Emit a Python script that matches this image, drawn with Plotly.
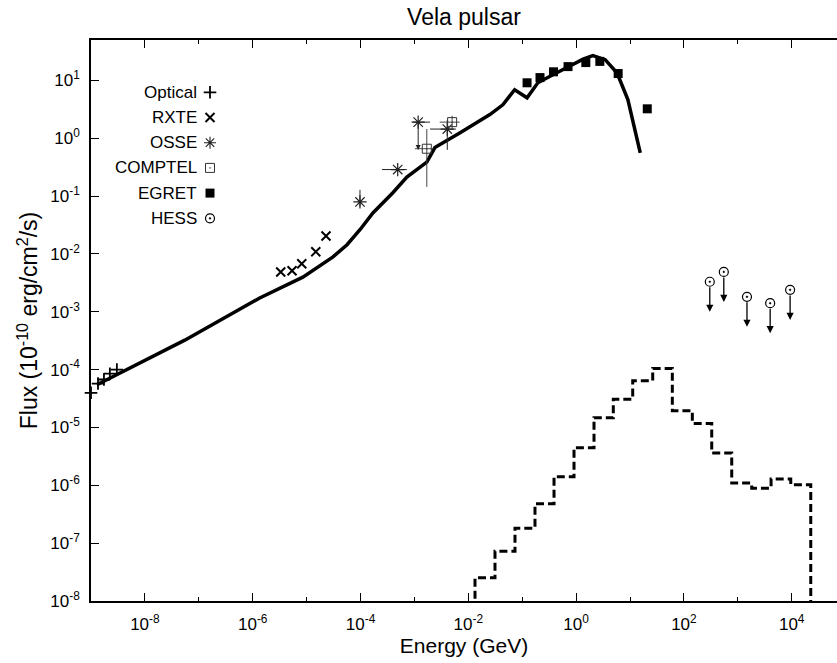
import numpy as np
import plotly.graph_objects as go

# ---------------- data (log10 E [GeV], log10 flux [1e-10 erg/cm2/s]) ----------------
model_logE = [-8.89, -7.26, -5.87, -5.07, -4.51, -4.25, -4.01, -3.77, -3.40, -3.14, -2.77, -2.62,
              -2.16, -1.60, -1.36, -1.14, -0.91, -0.71, -0.43, -0.17, 0.13, 0.31, 0.54, 0.76, 0.96, 1.19]
model_logF = [-4.26, -3.49, -2.76, -2.40, -2.05, -1.84, -1.58, -1.29, -0.94, -0.67, -0.41, -0.16,
              0.09, 0.41, 0.58, 0.84, 0.70, 0.96, 1.10, 1.22, 1.37, 1.43, 1.36, 1.13, 0.67, -0.25]

optical_logE = [-9.00, -8.87, -8.76, -8.65, -8.52]
optical_logF = [-4.40, -4.24, -4.17, -4.07, -4.00]

rxte_logE = [-5.48, -5.27, -5.09, -4.83, -4.64]
rxte_logF = [-2.31, -2.29, -2.17, -1.96, -1.69]

osse_logE = [-4.01, -3.31, -2.93, -2.39]
osse_logF = [-1.10, -0.54, 0.28, 0.16]
osse_logE_lo = [-4.01, -3.60, -3.03, -2.71]
osse_logE_hi = [-4.01, -3.14, -2.71, -2.23]
osse_logF_lo = [-1.18, -0.54, 0.28, -0.20]
osse_logF_hi = [-0.89, -0.54, 0.28, 0.32]
osse_ul_logE = [-2.93]
osse_ul_from = [0.28]
osse_ul_to = [-0.20]

comptel_logE = [-2.77, -2.30]
comptel_logF = [-0.18, 0.28]
comptel_logE_lo = [-2.99, -2.53]
comptel_logE_hi = [-2.65, -2.16]
comptel_logF_lo = [-0.84, 0.16]
comptel_logF_hi = [0.16, 0.39]

egret_logE = [-0.91, -0.67, -0.42, -0.15, 0.18, 0.44, 0.78, 1.32]
egret_logF = [0.96, 1.05, 1.15, 1.24, 1.31, 1.33, 1.12, 0.51]

hess_logE = [2.48, 2.74, 3.17, 3.60, 3.97]
hess_logF = [-2.48, -2.31, -2.74, -2.85, -2.62]
hess_ul_drop = 0.52  # length of the upper-limit arrows (decades)

hist_edges_logE = [-1.876, -1.505, -1.134, -0.763, -0.410, -0.039, 0.332, 0.690, 1.050, 1.421,
                   1.785, 2.156, 2.516, 2.887, 3.258, 3.617, 3.982, 4.353]
hist_levels_logF = [-7.60, -7.14, -6.74, -6.32, -5.85, -5.35, -4.83, -4.51, -4.19, -3.98,
                    -4.71, -4.93, -5.44, -5.96, -6.05, -5.89, -5.99]

legend_names = ["Optical", "RXTE", "OSSE", "COMPTEL", "EGRET", "HESS"]
x_tick_exp = [-8, -6, -4, -2, 0, 2, 4]
x_minor_exp = [-9, -7, -5, -3, -1, 1, 3]
y_tick_exp = [-8, -7, -6, -5, -4, -3, -2, -1, 0, 1]

# ---------------- figure ----------------
p = lambda a: np.power(10.0, np.asarray(a, dtype=float))
FONT = "Liberation Sans, Arial, Helvetica, sans-serif"
BLACK = "#000000"

fig = go.Figure()

# model curve
fig.add_trace(go.Scatter(x=p(model_logE), y=p(model_logF), mode="lines",
                         line=dict(color=BLACK, width=3.5), showlegend=False))

# histogram (dashed step)
hx = [hist_edges_logE[0]] + hist_edges_logE + [hist_edges_logE[-1]]
hy = [-9.0] + hist_levels_logF + [hist_levels_logF[-1], -9.0]
fig.add_trace(go.Scatter(x=p(hx), y=p(hy), mode="lines", line_shape="hv",
                         line=dict(color=BLACK, width=3, dash="8px,4px"), showlegend=False))

# optical
fig.add_trace(go.Scatter(x=p(optical_logE), y=p(optical_logF), mode="markers",
                         marker=dict(symbol="cross-thin", size=9, line=dict(color=BLACK, width=1.8)),
                         showlegend=False, cliponaxis=False))
# RXTE
fig.add_trace(go.Scatter(x=p(rxte_logE), y=p(rxte_logF), mode="markers",
                         marker=dict(symbol="x-thin", size=9, line=dict(color=BLACK, width=2)),
                         showlegend=False))

# OSSE
oE, oF = p(osse_logE), p(osse_logF)
fig.add_trace(go.Scatter(
    x=oE, y=oF, mode="markers",
    marker=dict(symbol="asterisk", size=11, color=BLACK, line=dict(color="#222", width=1.2)),
    error_x=dict(type="data", symmetric=False, array=p(osse_logE_hi) - oE,
                 arrayminus=oE - p(osse_logE_lo), color="#222", thickness=1, width=0),
    error_y=dict(type="data", symmetric=False, array=p(osse_logF_hi) - oF,
                 arrayminus=oF - p(osse_logF_lo), color="#222", thickness=1, width=0),
    showlegend=False))

# COMPTEL
cE, cF = p(comptel_logE), p(comptel_logF)
fig.add_trace(go.Scatter(
    x=cE, y=cF, mode="markers",
    marker=dict(symbol="square-open-dot", size=9, color="#333", line=dict(color="#333", width=1)),
    error_x=dict(type="data", symmetric=False, array=p(comptel_logE_hi) - cE,
                 arrayminus=cE - p(comptel_logE_lo), color="#444", thickness=1, width=0),
    error_y=dict(type="data", symmetric=False, array=p(comptel_logF_hi) - cF,
                 arrayminus=cF - p(comptel_logF_lo), color="#444", thickness=1, width=0),
    showlegend=False))

# EGRET
fig.add_trace(go.Scatter(x=p(egret_logE), y=p(egret_logF), mode="markers",
                         marker=dict(symbol="square", size=9, color=BLACK), showlegend=False))

# HESS
fig.add_trace(go.Scatter(x=p(hess_logE), y=p(hess_logF), mode="markers",
                         marker=dict(symbol="circle-open-dot", size=9, color=BLACK,
                                     line=dict(color=BLACK, width=1.2)),
                         showlegend=False))

annotations = []
for e, f in zip(hess_logE, hess_logF):
    annotations.append(dict(x=e, y=f - hess_ul_drop, ax=e, ay=f - 0.07, xref="x", yref="y",
                            axref="x", ayref="y", text="", showarrow=True, arrowhead=2,
                            arrowsize=1.1, arrowwidth=1.3, arrowcolor=BLACK))
for e, f0, f1 in zip(osse_ul_logE, osse_ul_from, osse_ul_to):
    annotations.append(dict(x=e, y=f1, ax=e, ay=f0, xref="x", yref="y",
                            axref="x", ayref="y", text="", showarrow=True, arrowhead=2,
                            arrowsize=1.0, arrowwidth=1.0, arrowcolor="#222"))

# manual key (text on the left, symbol on the right)
W, H = 837, 663
L, R, T, B = 91, 0, 40, 62
pw, ph = W - L - R, H - T - B
key_sym = [dict(symbol="cross-thin", size=9, line=dict(color=BLACK, width=1.8)),
           dict(symbol="x-thin", size=9, line=dict(color=BLACK, width=2)),
           dict(symbol="asterisk", size=10, line=dict(color="#222", width=1.1)),
           dict(symbol="square-open-dot", size=9, color="#333", line=dict(color="#333", width=1)),
           dict(symbol="square", size=9, color=BLACK),
           dict(symbol="circle-open-dot", size=9, color=BLACK, line=dict(color=BLACK, width=1.2))]
key_x_sym = (210 - L) / pw
key_x_txt = (199 - L) / pw
key_y0 = (H - B - 92.3) / ph
key_dy = 25.2 / ph
for i, (name, ms) in enumerate(zip(legend_names, key_sym)):
    yy = key_y0 - i * key_dy
    fig.add_trace(go.Scatter(x=[key_x_sym], y=[yy], mode="markers", marker=ms,
                             xaxis="x2", yaxis="y2", showlegend=False, hoverinfo="skip"))
    annotations.append(dict(x=key_x_txt, y=yy, xref="paper", yref="paper", text=name,
                            showarrow=False, xanchor="right", yanchor="middle",
                            font=dict(family=FONT, size=17, color=BLACK)))

fig.update_layout(
    width=W, height=H, margin=dict(l=L, r=R, t=T, b=B),
    paper_bgcolor="white", plot_bgcolor="white",
    font=dict(family=FONT, size=17, color=BLACK),
    title=dict(text="Vela pulsar", x=(L + pw / 2) / W, xanchor="center", y=1 - 17 / H,
               yanchor="middle", font=dict(family=FONT, size=23, color=BLACK)),
    xaxis=dict(type="log", range=[-9, 4.84], showgrid=False, zeroline=False,
               showline=True, linecolor=BLACK, linewidth=1.5, mirror="allticks",
               ticks="inside", ticklen=8, tickwidth=1, tickcolor=BLACK,
               tickvals=[10.0 ** k for k in x_tick_exp],
               ticktext=[f"10<sup>{k}</sup>" for k in x_tick_exp],
               minor=dict(tickvals=[10.0 ** k for k in x_minor_exp], ticks="inside",
                          ticklen=4, tickwidth=1, tickcolor=BLACK, showgrid=False),
               tickfont=dict(size=17), ticklabelstandoff=7,
               title=dict(text="Energy (GeV)", font=dict(size=21), standoff=3)),
    yaxis=dict(type="log", range=[-8, 1.7], showgrid=False, zeroline=False,
               showline=True, linecolor=BLACK, linewidth=1.5, mirror=False,
               ticks="inside", ticklen=8, tickwidth=1, tickcolor=BLACK,
               tickvals=[10.0 ** k for k in y_tick_exp],
               ticktext=[f"10<sup>{k}</sup>" for k in y_tick_exp],
               tickfont=dict(size=17), ticklabelstandoff=6,
               title=dict(text="Flux (10<sup>-10</sup> erg/cm<sup>2</sup>/s)", font=dict(size=23),
                          standoff=6)),
    xaxis2=dict(overlaying="x", range=[0, 1], visible=False, fixedrange=True),
    yaxis2=dict(overlaying="y", range=[0, 1], visible=False, fixedrange=True),
    annotations=annotations,
)

fig.write_html("out.html")
